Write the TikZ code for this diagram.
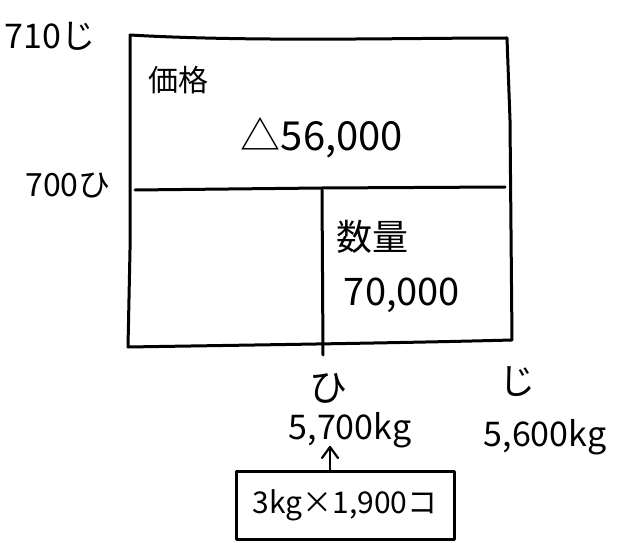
\documentclass[tikz,border=0pt]{standalone}
\usepackage{fontspec}
\setmainfont{Noto Sans CJK JP}
\usetikzlibrary{arrows.meta,calc}
\tikzset{
  ink/.style={line width=3pt, line cap=round, line join=round},
  lbl/.style={font=\fontsize{#1}{#1}\selectfont, inner sep=1pt},
}
\begin{document}
\begin{tikzpicture}[x=1pt,y=-1pt]
\useasboundingbox (0,0) rectangle (619,543);
% outer frame and grid
\draw[ink] (130,35) .. controls (250,42) and (400,38) .. (507,38) -- (510,120) -- (512,340)
  .. controls (400,343) and (250,345) .. (128,347) -- (130,250) -- cycle;
\draw[ink] (135,190) -- (322,188) -- (505,187);
\draw[ink] (322,190) -- (323,355);
% labels
\node[lbl=34] (p710) at (50,36) {710じ};
\node[lbl=32] (p700) at (68,185) {700ひ};
\node[lbl=30] (kakaku) at (178,80) {価格};
\node[lbl=40] (price) at (322,138) {△56,000};
\node[lbl=36] (suryo) at (372,237) {数量};
\node[lbl=38] (qty) at (402,295) {70,000};
\node[lbl=38] (hi) at (328,388) {ひ};
\node[lbl=34] (q5700) at (350,430) {5,700kg};
\node[lbl=36] (ji) at (517,382) {じ};
\node[lbl=34] (q5600) at (545,437) {5,600kg};
\node[lbl=30, draw, ink, minimum width=218pt, minimum height=68pt] (box) at (345,505) {3kg×1,900コ};
\coordinate (tip) at (330,447);
\draw[ink, line width=2.2pt] (box.north -| tip) -- (tip);
\draw[ink, line width=2.2pt] ($(tip)+(-8,11)$) -- (tip) -- ($(tip)+(8,11)$);
\end{tikzpicture}
\end{document}
